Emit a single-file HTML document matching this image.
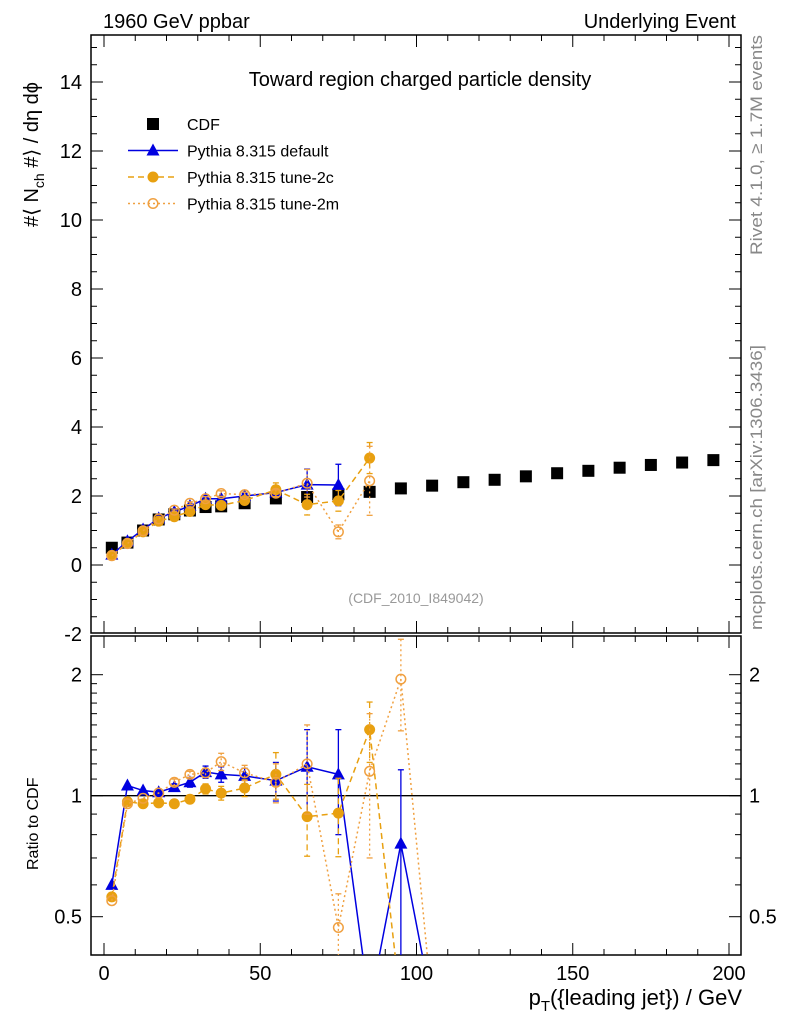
<!DOCTYPE html>
<html><head><meta charset="utf-8"><style>
body{margin:0;background:#fff;width:786px;height:1024px;overflow:hidden}
svg{font-family:"Liberation Sans",sans-serif}
</style></head><body>
<svg id="c" width="786" height="1024"></svg>
<script>
const xs=[2.5,7.5,12.5,17.5,22.5,27.5,32.5,37.5,45,55,65,75,85,95,105,115,125,135,145,155,165,175,185,195];
const cdf=[0.5,0.65,1.0,1.32,1.47,1.58,1.68,1.70,1.79,1.93,1.97,2.05,2.12,2.22,2.30,2.40,2.47,2.57,2.66,2.73,2.82,2.90,2.97,3.04];
const mcX=[2.5,7.5,12.5,17.5,22.5,27.5,32.5,37.5,45,55,65,75,85];
const defMain=[0.30,0.69,1.03,1.35,1.54,1.71,1.92,1.92,2.0,2.1,2.33,2.32];
const defMainErr=[0,0,0,0,0.05,0.05,0.07,0.07,0.08,0.1,0.45,0.6];
const c2Main=[0.28,0.63,0.96,1.27,1.40,1.55,1.75,1.73,1.87,2.18,1.75,1.86,3.1];
const c2MainErr=[0,0,0,0,0.03,0.04,0.06,0.06,0.07,0.2,0.3,0.3,0.45];
const m2Main=[0.27,0.62,0.99,1.34,1.59,1.79,1.92,2.07,2.04,2.08,2.37,0.96,2.44];
const m2MainErr=[0,0,0,0,0.03,0.04,0.06,0.08,0.07,0.1,0.4,0.2,1.0];
const rX=[2.5,7.5,12.5,17.5,22.5,27.5,32.5,37.5,45,55,65,75,85,95,105];
const defR=[0.60,1.06,1.03,1.02,1.05,1.08,1.145,1.13,1.12,1.09,1.18,1.13,0.3,0.76,0.3];
const defRErr=[0,0,0,0,0.02,0.03,0.04,0.05,0.05,0.12,0.28,0.33,0,0.4,0];
const c2R=[0.56,0.966,0.955,0.96,0.955,0.98,1.04,1.015,1.045,1.13,0.887,0.905,1.46,0.3];
const c2RErr=[0,0,0,0,0.02,0.02,0.03,0.04,0.05,0.15,0.18,0.2,0.25,0];
const m2R=[0.548,0.955,0.985,1.015,1.08,1.13,1.14,1.215,1.14,1.08,1.2,0.47,1.15,1.95,0.3];
const m2RErr=[0,0,0,0,0.02,0.02,0.03,0.06,0.05,0.12,0.3,0.1,0.45,0.5,0];
const xTicks=[0,50,100,150,200];
const yTicks=[-2,0,2,4,6,8,10,12,14];
const rTicks=[0.5,1,2];

const L=91,R=741,T=35,B=633,RT=636,RB=955;
const X=v=>104+v*3.125;
const Y=v=>565-v*34.5;
const RY=v=>795.7-Math.log2(v)*121;
const S=document.getElementById('c');
const NS='http://www.w3.org/2000/svg';
function el(t,a,p){const e=document.createElementNS(NS,t);for(const k in a)e.setAttribute(k,a[k]);(p||S).appendChild(e);return e;}
function txt(x,y,s,a){const e=el('text',Object.assign({x:x,y:y},a||{}));e.textContent=s;return e;}

const defs=el('defs',{});
const c1=el('clipPath',{id:'cm'},defs);el('rect',{x:L,y:T,width:R-L,height:B-T},c1);
const c2=el('clipPath',{id:'cr'},defs);el('rect',{x:L,y:RT,width:R-L,height:RB-RT},c2);

let f=el('rect',{x:L,y:T,width:R-L,height:B-T,fill:'none',stroke:'#000','stroke-width':1.5});

f=el('rect',{x:L,y:RT,width:R-L,height:RB-RT,fill:'none',stroke:'#000','stroke-width':1.5});


for(let v=0;v<=200;v+=10){const maj=v%50==0;const l=maj?12:6;const x=X(v);
 for(const [b,t] of [[B,T],[RB,RT]]){el('line',{x1:x,x2:x,y1:b,y2:b-l,stroke:'#000'});el('line',{x1:x,x2:x,y1:t,y2:t+l,stroke:'#000'});}}
xTicks.forEach(v=>{const t=txt(X(v),980,v,{'font-size':20,'text-anchor':'middle'});
});
for(let v=-2;v<=15.4;v+=0.5){const y=Y(v);if(y<T||y>B)continue;const maj=Math.abs(v%2)<1e-6;const l=maj?12:6;
 el('line',{x1:L,x2:L+l,y1:y,y2:y,stroke:'#000'});el('line',{x1:R,x2:R-l,y1:y,y2:y,stroke:'#000'});}
yTicks.forEach(v=>{const t=txt(82,Y(v)+7,v,{'font-size':20,'text-anchor':'end'});
});
[0.4,0.5,0.6,0.7,0.8,0.9,1,1.1,1.2,1.3,1.4,1.5,1.6,1.7,1.8,1.9,2].forEach(v=>{const y=RY(v);if(y<RT||y>RB)return;
 const maj=rTicks.includes(v);const l=maj?12:6;
 el('line',{x1:L,x2:L+l,y1:y,y2:y,stroke:'#000'});el('line',{x1:R,x2:R-l,y1:y,y2:y,stroke:'#000'});});
rTicks.forEach(v=>{let t=txt(82,RY(v)+7,v,{'font-size':20,'text-anchor':'end'});

t=txt(749,RY(v)+7,v,{'font-size':20});
});
let ln=el('line',{x1:L,x2:R,y1:RY(1),y2:RY(1),stroke:'#000','stroke-width':1.3});


const BLUE='#0000e0',ORG='#e8a010',ORG2='#f0a040';
function marker(g,type,x,y,col){
 if(type=='sq')el('rect',{x:x-6,y:y-6,width:12,height:12,fill:'#000'},g);
 else if(type=='tri')el('polygon',{points:`${x},${y-7} ${x-6.5},${y+5} ${x+6.5},${y+5}`,fill:col},g);
 else if(type=='dot')el('circle',{cx:x,cy:y,r:5.5,fill:col},g);
 else el('circle',{cx:x,cy:y,r:4.8,fill:'none',stroke:col,'stroke-width':1.5},g);}
function series(name,xv,yv,ev,fy,clip,type,col,dash,ratio){
 const g=el('g',{'clip-path':`url(#${clip})`});
 
 const pts=xv.slice(0,yv.length).map((x,i)=>[X(x),fy(yv[i])]);
 if(type!='sq')el('polyline',{points:pts.map(p=>p.join(',')).join(' '),fill:'none',stroke:col,'stroke-width':1.5,'stroke-dasharray':dash},g);
 yv.forEach((v,i)=>{const e=ev?ev[i]:0;if(e>0){const x=X(xv[i]);
  const lo=ratio?Math.max(v-e,0.05):v-e;const y1=fy(v+e),y2=fy(lo);
  el('line',{x1:x,x2:x,y1:y1,y2:y2,stroke:col,'stroke-width':1.3,'stroke-dasharray':dash},g);
  el('line',{x1:x-3,x2:x+3,y1:y1,y2:y1,stroke:col,'stroke-width':1.3},g);
  el('line',{x1:x-3,x2:x+3,y1:y2,y2:y2,stroke:col,'stroke-width':1.3},g);}});
 pts.forEach(p=>marker(g,type,p[0],p[1],col));}
series('cdf-data',xs,cdf,null,Y,'cm','sq','#000',null,false);
series('pythia-default-main',mcX,defMain,defMainErr,Y,'cm','tri',BLUE,null,false);
series('pythia-tune2c-main',mcX,c2Main,c2MainErr,Y,'cm','dot',ORG,'6,4',false);
series('pythia-tune2m-main',mcX,m2Main,m2MainErr,Y,'cm','ring',ORG2,'2,3',false);
series('pythia-default-ratio',rX,defR,defRErr,RY,'cr','tri',BLUE,null,true);
series('pythia-tune2c-ratio',rX,c2R,c2RErr,RY,'cr','dot',ORG,'6,4',true);
series('pythia-tune2m-ratio',rX,m2R,m2RErr,RY,'cr','ring',ORG2,'2,3',true);

const lg=el('g',{});
[['CDF','sq','#000',null],['Pythia 8.315 default','tri',BLUE,null],['Pythia 8.315 tune-2c','dot',ORG,'6,4'],['Pythia 8.315 tune-2m','ring',ORG2,'2,3']].forEach((d,i)=>{
 const y=124+i*26.5;const g=el('g',{},lg);
 if(d[1]!='sq')el('line',{x1:128,x2:178,y1:y,y2:y,stroke:d[2],'stroke-width':1.5,'stroke-dasharray':d[3]},g);
 marker(g,d[1],153,y,d[2]);
 const t=el('text',{x:187,y:y+6,'font-size':16},g);t.textContent=d[0];});

function lab(x,y,s,name,a){const t=txt(x,y,s,a);return t;}
lab(103,28,'1960 GeV ppbar','top-left-label',{'font-size':20});
lab(736,28,'Underlying Event','top-right-label',{'font-size':20,'text-anchor':'end'});
lab(420,86,'Toward region charged particle density','plot-title',{'font-size':20,'text-anchor':'middle'});
lab(416,603,'(CDF_2010_I849042)','analysis-id',{'font-size':14,'text-anchor':'middle',fill:'#999'});
lab(742,1005,'p','x-axis-title',{'font-size':22,'text-anchor':'end'}).innerHTML='p<tspan font-size="15" dy="6">T</tspan><tspan dy="-6">({leading jet}) / GeV</tspan>';
let yt=lab(0,0,'','y-axis-title',{'font-size':20,transform:'translate(38,82) rotate(-90)','text-anchor':'end'});
yt.innerHTML='#⟨ N<tspan font-size="14" dy="6">ch</tspan><tspan dy="-6"> #⟩ / dη dϕ</tspan>';
lab(0,0,'Ratio to CDF','ratio-axis-title',{'font-size':16,transform:'translate(38,870) rotate(-90)'});
lab(0,0,'Rivet 4.1.0, ≥ 1.7M events','rivet-label',{'font-size':17,fill:'#888',transform:'translate(762,255) rotate(-90)',textLength:220,lengthAdjust:'spacingAndGlyphs'});
lab(0,0,'mcplots.cern.ch [arXiv:1306.3436]','mcplots-label',{'font-size':17,fill:'#888',transform:'translate(762,630) rotate(-90)',textLength:285,lengthAdjust:'spacingAndGlyphs'});
</script>
</body></html>
